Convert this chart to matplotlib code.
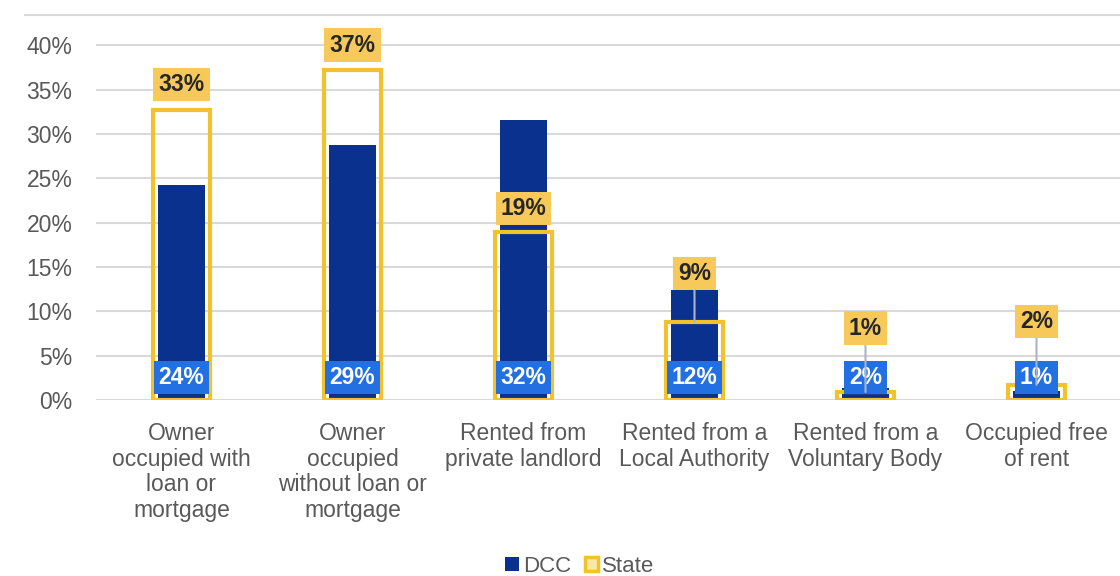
import matplotlib
matplotlib.use("Agg")
import matplotlib.pyplot as plt
from matplotlib.patches import Patch
from matplotlib.lines import Line2D
import numpy as np

categories = ["Owner\noccupied with\nloan or\nmortgage",
              "Owner\noccupied\nwithout loan or\nmortgage",
              "Rented from\nprivate landlord",
              "Rented from a\nLocal Authority",
              "Rented from a\nVoluntary Body",
              "Occupied free\nof rent"]
dcc = [24.2, 28.7, 31.6, 12.4, 1.3, 1.0]
state = [32.7, 37.2, 18.9, 8.8, 0.9, 1.7]
dcc_labels = ["24%", "29%", "32%", "12%", "2%", "1%"]
state_labels = ["33%", "37%", "19%", "9%", "1%", "2%"]
yticks = [0, 5, 10, 15, 20, 25, 30, 35, 40]

# layout (pixel offsets of state labels above bar tops)
state_label_offset_px = [25, 25, 24, 48, 64, 63]
leader = [False, False, False, True, True, True]

NAVY = "#0B318F"
YELLOW = "#F2C12E"
YLABEL = "#F6C95A"
BLABEL = "#2370E2"
GRID = "#D9D9D9"
TXT = "#595959"

plt.rcParams['font.family'] = ['Liberation Sans', 'DejaVu Sans']

fig = plt.figure(figsize=(11.2, 5.76), dpi=100)
W, H = 1120, 576
left, right, bottom, top = 96, 1122, 400, 15
ax = fig.add_axes([left / W, 1 - bottom / H, (right - left) / W, (bottom - top) / H])

x = np.arange(len(categories))
ax.set_xlim(-0.5, len(categories) - 0.5)
ax.set_ylim(0, 43.4)

for y in yticks:
    ax.axhline(y, color=GRID, lw=1.5, zorder=0)

ax.bar(x, dcc, width=0.275, color=NAVY, zorder=2, label="DCC")
ax.bar(x, state, width=0.335, facecolor="none", edgecolor=YELLOW, linewidth=3.0,
       zorder=3, label="State")

for xi, lab in zip(x, dcc_labels):
    ax.text(xi, 2.5, lab, ha="center", va="center", color="white", fontsize=16.5,
            fontweight="bold", zorder=5,
            bbox=dict(boxstyle="square,pad=0.22", facecolor=BLABEL, edgecolor="none"))

for xi, v, lab, off, ld in zip(x, state, state_labels, state_label_offset_px, leader):
    kw = {}
    if ld:
        kw["arrowprops"] = dict(arrowstyle="-", color="#A9B4C8", lw=1.5,
                                shrinkA=0, shrinkB=0)
    ax.annotate(lab, xy=(xi, v), xytext=(0, off), textcoords="offset pixels",
                ha="center", va="center", fontsize=16.5, fontweight="bold",
                color="#262626", zorder=6, annotation_clip=False,
                bbox=dict(boxstyle="square,pad=0.22", facecolor=YLABEL, edgecolor="none"),
                **kw)

ax.set_yticks(yticks)
ax.set_yticklabels([f"{t}%" for t in yticks], fontsize=16.5, color=TXT)
ax.set_xticks(x)
ax.set_xticklabels(categories, fontsize=16.5, color=TXT, linespacing=1.14)
ax.tick_params(axis="both", length=0)
ax.tick_params(axis="y", pad=17)
ax.tick_params(axis="x", pad=16)
for s in ax.spines.values():
    s.set_visible(False)

fig.add_artist(Line2D([25 / W, 1.0], [1 - 15 / H, 1 - 15 / H], color=GRID, lw=1.5,
                      transform=fig.transFigure))

handles = [Patch(facecolor=NAVY, edgecolor="none", label="DCC"),
           Patch(facecolor="#FBE7A6", edgecolor=YELLOW, linewidth=2.5, label="State")]
fig.legend(handles=handles, loc="center", bbox_to_anchor=(580 / W, 1 - 566 / H),
           ncol=2, frameon=False, fontsize=16, handlelength=0.6, handleheight=0.6,
           handletextpad=0.2, columnspacing=0.6, labelcolor=TXT)

fig.savefig("out.png", dpi=100)
